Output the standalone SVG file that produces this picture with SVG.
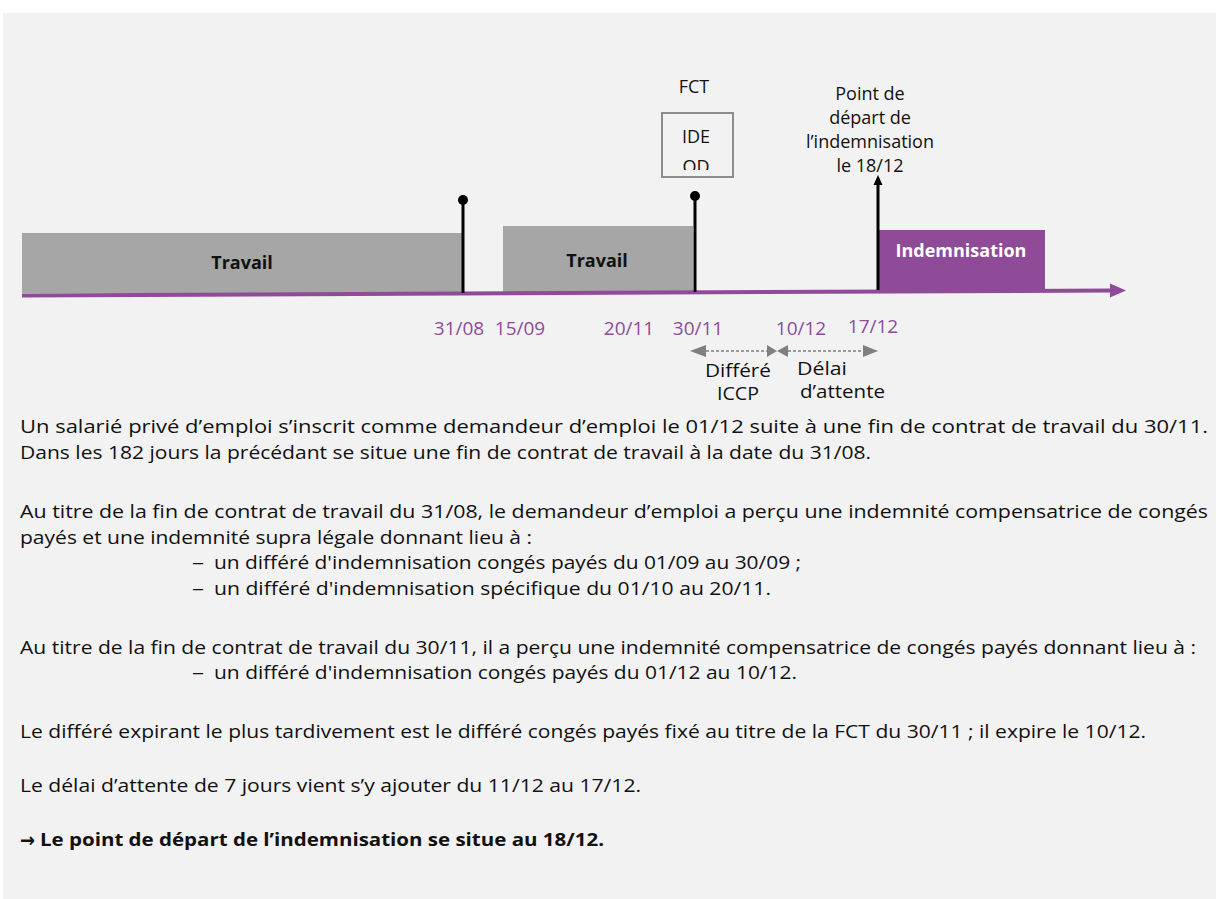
<svg xmlns="http://www.w3.org/2000/svg" width="1216" height="899" viewBox="0 0 1216 899">
<style>
  text { font-family: "Open Sans", "Liberation Sans", sans-serif; fill: #111; }
  .body { font-size: 18px; }
  .lbl { font-size: 18px; }
  .sub { font-size: 18px; }
  .date { font-size: 19px; fill: #8e4a9b; text-anchor: middle; }
  .bold { font-weight: bold; }
  .mid { text-anchor: middle; }
  .work { fill: #a6a6a6; }
  .stem { stroke: #000; stroke-width: 3; }
  .dash { stroke: #7f7f7f; stroke-width: 1.5; stroke-dasharray: 3 2; fill: none; }
  .ghead { fill: #7f7f7f; }
</style>
<defs>
  <clipPath id="boxclip"><rect x="662" y="113" width="71" height="57"/></clipPath>
</defs>
<rect x="0" y="0" width="1216" height="899" fill="#ffffff"/>
<rect x="3" y="13" width="1213" height="886" fill="#f2f2f2"/>

<g id="work1">
  <rect class="work" x="22" y="233" width="441" height="60"/>
  <text class="lbl bold mid" x="242" y="269" font-size="17">Travail</text>
</g>
<g id="work2">
  <rect class="work" x="503" y="226" width="190" height="67"/>
  <text class="lbl bold mid" x="597" y="267" font-size="17">Travail</text>
</g>
<g id="indemnisation">
  <rect x="878" y="230" width="167" height="61" fill="#8f4a98"/>
  <text class="lbl bold mid" x="961" y="257" font-size="17" style="fill:#ffffff">Indemnisation</text>
</g>
<g id="fct">
  <text class="lbl mid" x="694" y="93" font-size="17">FCT</text>
  <rect x="662" y="113" width="71" height="64" fill="#f2f2f2" stroke="#8c8c8c" stroke-width="2"/>
  <g clip-path="url(#boxclip)">
    <text class="lbl mid" x="696" y="143">IDE</text>
    <text class="lbl mid" x="696" y="173">OD</text>
  </g>
</g>
<g id="depart-label">
  <text class="lbl mid" x="870" y="100">Point de</text>
  <text class="lbl mid" x="870" y="124">départ de</text>
  <text class="lbl mid" x="870" y="148">l’indemnisation</text>
  <text class="lbl mid" x="870" y="172">le 18/12</text>
</g>

<g id="connectors">
  <line x1="22" y1="295.5" x2="1112" y2="290.5" stroke="#8f4a98" stroke-width="4"/>
  <polygon points="1110,283.5 1126,290.5 1110,297.5" fill="#8f4a98"/>
  <line class="stem" x1="463" y1="200" x2="463" y2="293"/>
  <circle cx="463" cy="200" r="5" fill="#000"/>
  <line class="stem" x1="695" y1="196" x2="695" y2="292"/>
  <circle cx="695" cy="196" r="5" fill="#000"/>
  <line x1="878" y1="290" x2="878" y2="180" stroke="#000" stroke-width="3"/>
  <polygon points="873.5,185 878,175 882.5,185" fill="#000"/>
  <line class="dash" x1="706" y1="351" x2="767" y2="351"/>
  <polygon class="ghead" points="706,345 690,351 706,357"/>
  <polygon class="ghead" points="767,345 777,351 767,357"/>
  <polygon class="ghead" points="788,345 777,351 788,357"/>
  <line class="dash" x1="788" y1="351" x2="863" y2="351"/>
  <polygon class="ghead" points="863,345 878,351 863,357"/>
</g>

<g id="dates">
  <text class="date" x="459" y="335">31/08</text>
  <text class="date" x="520" y="335">15/09</text>
  <text class="date" x="629" y="335">20/11</text>
  <text class="date" x="698" y="335">30/11</text>
  <text class="date" x="801" y="335">10/12</text>
  <text class="date" x="873" y="333">17/12</text>
</g>
<g id="period-labels">
  <text class="sub" x="705" y="377" textLength="66" lengthAdjust="spacingAndGlyphs">Différé</text>
  <text class="sub" x="717" y="400" textLength="42" lengthAdjust="spacingAndGlyphs">ICCP</text>
  <text class="sub" x="797" y="375" textLength="50" lengthAdjust="spacingAndGlyphs">Délai</text>
  <text class="sub" x="800" y="398" textLength="85" lengthAdjust="spacingAndGlyphs">d’attente</text>
</g>

<g id="explanation">
  <text class="body" x="20" y="433" textLength="1188" lengthAdjust="spacingAndGlyphs">Un salarié privé d’emploi s’inscrit comme demandeur d’emploi le 01/12 suite à une fin de contrat de travail du 30/11.</text>
  <text class="body" x="20" y="459" textLength="851" lengthAdjust="spacingAndGlyphs">Dans les 182 jours la précédant se situe une fin de contrat de travail à la date du 31/08.</text>
  <text class="body" x="20" y="518" textLength="1188" lengthAdjust="spacingAndGlyphs">Au titre de la fin de contrat de travail du 31/08, le demandeur d’emploi a perçu une indemnité compensatrice de congés</text>
  <text class="body" x="20" y="544" textLength="512" lengthAdjust="spacingAndGlyphs">payés et une indemnité supra légale donnant lieu à :</text>
  <text class="body" x="192" y="569" textLength="12" lengthAdjust="spacingAndGlyphs">–</text>
  <text class="body" x="214" y="569" textLength="587" lengthAdjust="spacingAndGlyphs">un différé d'indemnisation congés payés du 01/09 au 30/09 ;</text>
  <text class="body" x="192" y="595" textLength="12" lengthAdjust="spacingAndGlyphs">–</text>
  <text class="body" x="214" y="595" textLength="557" lengthAdjust="spacingAndGlyphs">un différé d'indemnisation spécifique du 01/10 au 20/11.</text>
  <text class="body" x="20" y="654" textLength="1176" lengthAdjust="spacingAndGlyphs">Au titre de la fin de contrat de travail du 30/11, il a perçu une indemnité compensatrice de congés payés donnant lieu à :</text>
  <text class="body" x="192" y="679" textLength="12" lengthAdjust="spacingAndGlyphs">–</text>
  <text class="body" x="214" y="679" textLength="583" lengthAdjust="spacingAndGlyphs">un différé d'indemnisation congés payés du 01/12 au 10/12.</text>
  <text class="body" x="20" y="738" textLength="1126" lengthAdjust="spacingAndGlyphs">Le différé expirant le plus tardivement est le différé congés payés fixé au titre de la FCT du 30/11 ; il expire le 10/12.</text>
  <text class="body" x="20" y="792" textLength="621" lengthAdjust="spacingAndGlyphs">Le délai d’attente de 7 jours vient s’y ajouter du 11/12 au 17/12.</text>
  <text class="bold" x="20" y="847" font-size="20" style="font-family:'DejaVu Sans', sans-serif" textLength="15" lengthAdjust="spacingAndGlyphs">→</text>
  <text class="body bold" x="40" y="846" textLength="564" lengthAdjust="spacingAndGlyphs">Le point de départ de l’indemnisation se situe au 18/12.</text>
</g>
</svg>
